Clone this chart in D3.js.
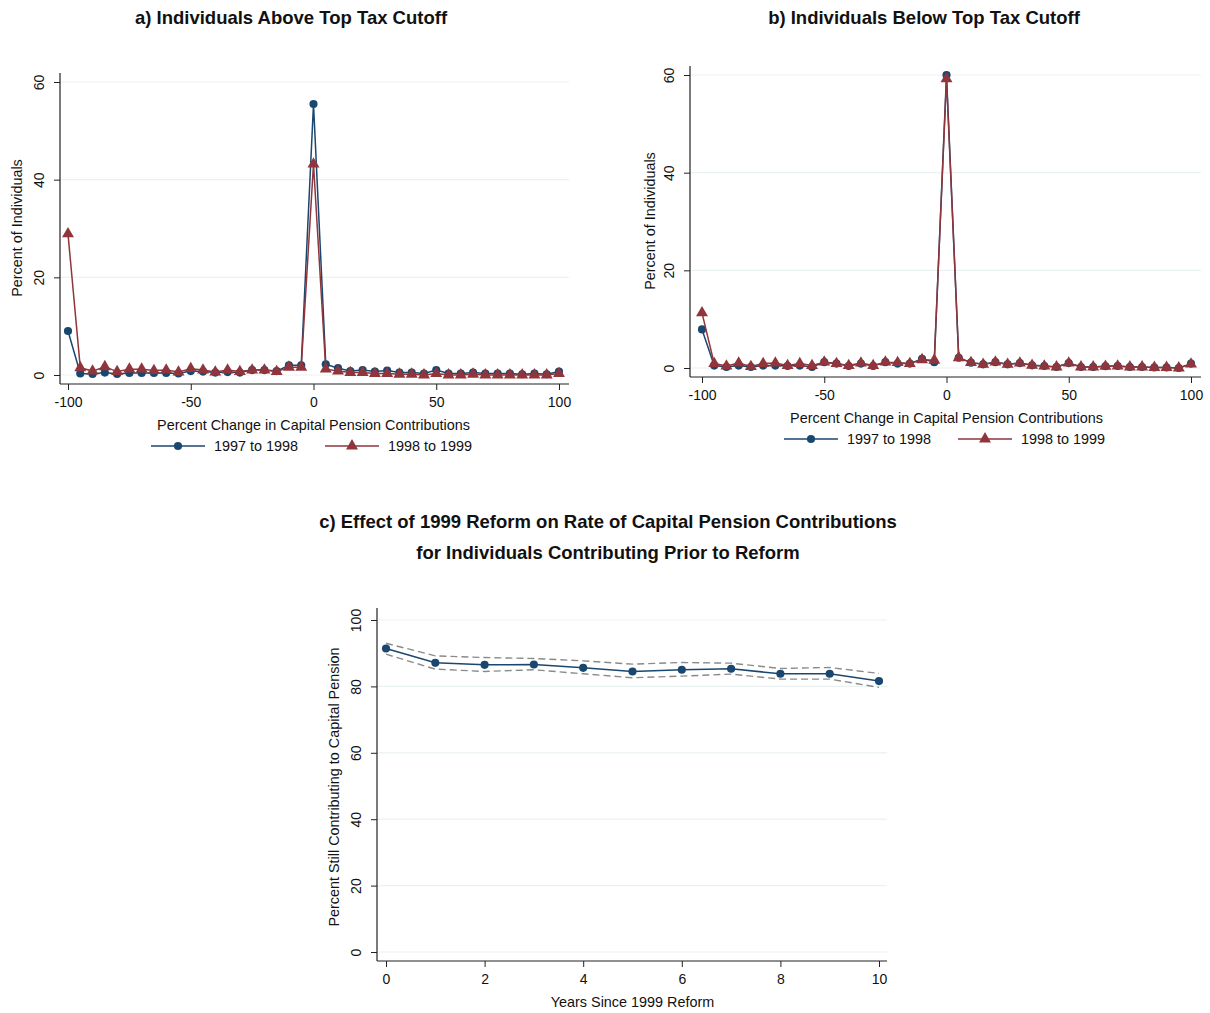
<!DOCTYPE html>
<html>
<head>
<meta charset="utf-8">
<script src="https://d3js.org/d3.v7.min.js"></script>
<style>
  body { margin: 0; background: #fff; }
  svg text { font-family: "Liberation Sans", Arial, Helvetica, sans-serif; fill: #111; }
</style>
</head>
<body>
<div id="chart"></div>
<script>
// percent change bins, -100 .. 100 step 5
var bins = [-100,-95,-90,-85,-80,-75,-70,-65,-60,-55,-50,-45,-40,-35,-30,-25,-20,-15,-10,-5,
            0,5,10,15,20,25,30,35,40,45,50,55,60,65,70,75,80,85,90,95,100];

// panel a: above top tax cutoff
var aboveA = [9.0,0.3,0.2,0.5,0.2,0.4,0.4,0.4,0.4,0.3,0.8,0.7,0.5,0.6,0.5,1.0,1.0,0.8,2.0,2.0,
              55.5,2.2,1.4,0.8,1.0,0.7,0.9,0.5,0.5,0.3,1.0,0.3,0.3,0.5,0.3,0.3,0.3,0.15,0.3,0.15,0.7];
var aboveB = [28.9,1.5,0.8,1.7,0.7,1.2,1.2,0.9,1.0,0.6,1.3,1.0,0.6,1.0,0.7,1.0,1.0,0.7,1.6,1.6,
              43.2,1.2,0.8,0.5,0.5,0.3,0.3,0.15,0.15,0.0,0.3,0.0,0.0,0.15,0.0,0.0,0.0,0.0,0.0,0.0,0.3];

// panel b: below top tax cutoff
var belowA = [7.9,0.5,0.2,0.5,0.2,0.5,0.5,0.4,0.5,0.2,1.2,0.9,0.4,0.9,0.4,1.2,0.9,0.9,1.9,1.2,
              60.0,2.1,1.1,0.75,1.2,0.75,1.0,0.55,0.4,0.2,1.0,0.2,0.2,0.35,0.4,0.2,0.2,0.1,0.1,0.0,0.9];
var belowB = [11.3,0.9,0.4,1.0,0.3,0.9,1.0,0.5,0.9,0.5,1.2,0.9,0.5,1.0,0.5,1.2,1.1,0.9,1.7,1.6,
              59.2,2.1,1.1,0.75,1.2,0.75,1.0,0.55,0.4,0.2,1.0,0.2,0.2,0.35,0.4,0.2,0.2,0.1,0.1,0.0,0.8];

// panel c: years since reform
var years = [0,1,2,3,4,5,6,7,8,9,10];
var stillContrib = [91.4,87.1,86.5,86.6,85.6,84.5,85.0,85.3,83.8,83.8,81.6];
var ciUpper = [93.0,89.2,88.7,88.4,87.7,86.7,87.2,87.0,85.4,85.7,83.9];
var ciLower = [89.7,85.2,84.5,85.0,83.8,82.6,83.1,83.7,82.2,82.2,79.7];

var seriesNames = ["1997 to 1998", "1998 to 1999"];
var xTicksTop = [-100, -50, 0, 50, 100];
var yTicksTop = [0, 20, 40, 60];
var xTicksC = [0, 2, 4, 6, 8, 10];
var yTicksC = [0, 20, 40, 60, 80, 100];

var blue = "#1a476f", red = "#90353b", grid = "#eaf2f3", axisCol = "#222";

var svg = d3.select("#chart").append("svg")
    .attr("width", 1210).attr("height", 1013);

function frame(p) {
    var g = svg.append("g");
    var x = d3.scaleLinear().domain(p.xDom).range(p.xRange);
    var y = d3.scaleLinear().domain(p.yDom).range(p.yRange);

    // gridlines
    g.selectAll(".grid").data(p.yTicks).enter().append("line")
        .attr("x1", p.axisX).attr("x2", p.right)
        .attr("y1", d => y(d)).attr("y2", d => y(d))
        .attr("stroke", grid).attr("stroke-width", 1.2);

    // y axis
    var ya = g.append("g").attr("transform", "translate(" + p.axisX + ",0)")
        .call(d3.axisLeft(y).tickValues(p.yTicks).tickSize(6).tickPadding(4).tickFormat(d3.format("d")));
    ya.select(".domain").remove();
    ya.selectAll(".tick line").attr("stroke", axisCol);
    ya.selectAll(".tick text")
        .attr("transform", "rotate(-90,-16,0)")
        .attr("x", -16).attr("dy", "0").attr("y", 0)
        .style("text-anchor", "middle").style("font-size", "14px");
    g.append("line").attr("x1", p.axisX).attr("x2", p.axisX)
        .attr("y1", p.top).attr("y2", p.axisY).attr("stroke", axisCol).attr("stroke-width", 1.2);

    // x axis
    var xa = g.append("g").attr("transform", "translate(0," + p.axisY + ")")
        .call(d3.axisBottom(x).tickValues(p.xTicks).tickSize(6).tickPadding(7).tickFormat(d3.format("d")));
    xa.select(".domain").remove();
    xa.selectAll(".tick line").attr("stroke", axisCol);
    xa.selectAll(".tick text").style("font-size", "14px").text(d => d < 0 ? "-" + Math.abs(d) : d);
    g.append("line").attr("x1", p.axisX).attr("x2", p.right)
        .attr("y1", p.axisY).attr("y2", p.axisY).attr("stroke", axisCol).attr("stroke-width", 1.2);

    // axis titles
    g.append("text").attr("x", (p.xRange[0] + p.xRange[1]) / 2).attr("y", p.axisY + 46)
        .attr("text-anchor", "middle").style("font-size", "14.4px").text(p.xTitle);
    g.append("text")
        .attr("transform", "translate(" + p.yTitleX + "," + p.yTitleY + ") rotate(-90)")
        .attr("text-anchor", "middle").style("font-size", "14.4px").text(p.yTitle);

    return { g: g, x: x, y: y };
}

function series(f, xs, vals, color, shape) {
    var line = d3.line().x((d, i) => f.x(xs[i])).y(d => f.y(d));
    f.g.append("path").datum(vals).attr("d", line)
        .attr("fill", "none").attr("stroke", color).attr("stroke-width", 1.5);
    var sym = d3.symbol().type(shape).size(shape === d3.symbolCircle ? 52 : 62);
    f.g.selectAll(null).data(vals).enter().append("path")
        .attr("d", sym)
        .attr("transform", (d, i) => "translate(" + f.x(xs[i]) + "," + f.y(d) + ")")
        .attr("fill", color);
}

function legend(f, cx, y) {
    var items = [[seriesNames[0], blue, d3.symbolCircle], [seriesNames[1], red, d3.symbolTriangle]];
    items.forEach(function (it, i) {
        var x0 = cx + i * 174;
        f.g.append("line").attr("x1", x0).attr("x2", x0 + 54).attr("y1", y).attr("y2", y)
            .attr("stroke", it[1]).attr("stroke-width", 1.5);
        f.g.append("path").attr("d", d3.symbol().type(it[2]).size(it[2] === d3.symbolCircle ? 52 : 62)())
            .attr("transform", "translate(" + (x0 + 27) + "," + y + ")").attr("fill", it[1]);
        f.g.append("text").attr("x", x0 + 63).attr("y", y + 5).style("font-size", "14.4px").text(it[0]);
    });
}

function title(txt, cx, y) {
    svg.append("text").attr("x", cx).attr("y", y).attr("text-anchor", "middle")
        .style("font-size", "18.5px").style("font-weight", "bold").text(txt);
}

// panel a
title("a) Individuals Above Top Tax Cutoff", 291, 24);
var fa = frame({
    xDom: [-100, 100], xRange: [68, 559], yDom: [0, 60], yRange: [375, 82],
    axisX: 60, axisY: 384, top: 73, right: 569,
    xTicks: xTicksTop, yTicks: yTicksTop,
    xTitle: "Percent Change in Capital Pension Contributions",
    yTitle: "Percent of Individuals", yTitleX: 22, yTitleY: 228
});
series(fa, bins, aboveA, blue, d3.symbolCircle);
series(fa, bins, aboveB, red, d3.symbolTriangle);
legend(fa, 151, 446);

// panel b
title("b) Individuals Below Top Tax Cutoff", 924, 24);
var fb = frame({
    xDom: [-100, 100], xRange: [702, 1191], yDom: [0, 60], yRange: [368, 75],
    axisX: 690, axisY: 377, top: 66, right: 1201,
    xTicks: xTicksTop, yTicks: yTicksTop,
    xTitle: "Percent Change in Capital Pension Contributions",
    yTitle: "Percent of Individuals", yTitleX: 655, yTitleY: 221
});
series(fb, bins, belowA, blue, d3.symbolCircle);
series(fb, bins, belowB, red, d3.symbolTriangle);
legend(fb, 784, 439);

// panel c
title("c) Effect of 1999 Reform on Rate of Capital Pension Contributions", 608, 528);
title("for Individuals Contributing Prior to Reform", 608, 559);
var fc = frame({
    xDom: [0, 10], xRange: [386, 879], yDom: [0, 100], yRange: [952, 620],
    axisX: 377, axisY: 961, top: 608, right: 887,
    xTicks: xTicksC, yTicks: yTicksC,
    xTitle: "Years Since 1999 Reform",
    yTitle: "Percent Still Contributing to Capital Pension", yTitleX: 339, yTitleY: 787
});
[ciUpper, ciLower].forEach(function (band) {
    fc.g.append("path").datum(band)
        .attr("d", d3.line().x((d, i) => fc.x(years[i])).y(d => fc.y(d)))
        .attr("fill", "none").attr("stroke", "#8a8a8a").attr("stroke-width", 1.4)
        .attr("stroke-dasharray", "7,4");
});
series(fc, years, stillContrib, blue, d3.symbolCircle);
</script>
</body>
</html>
